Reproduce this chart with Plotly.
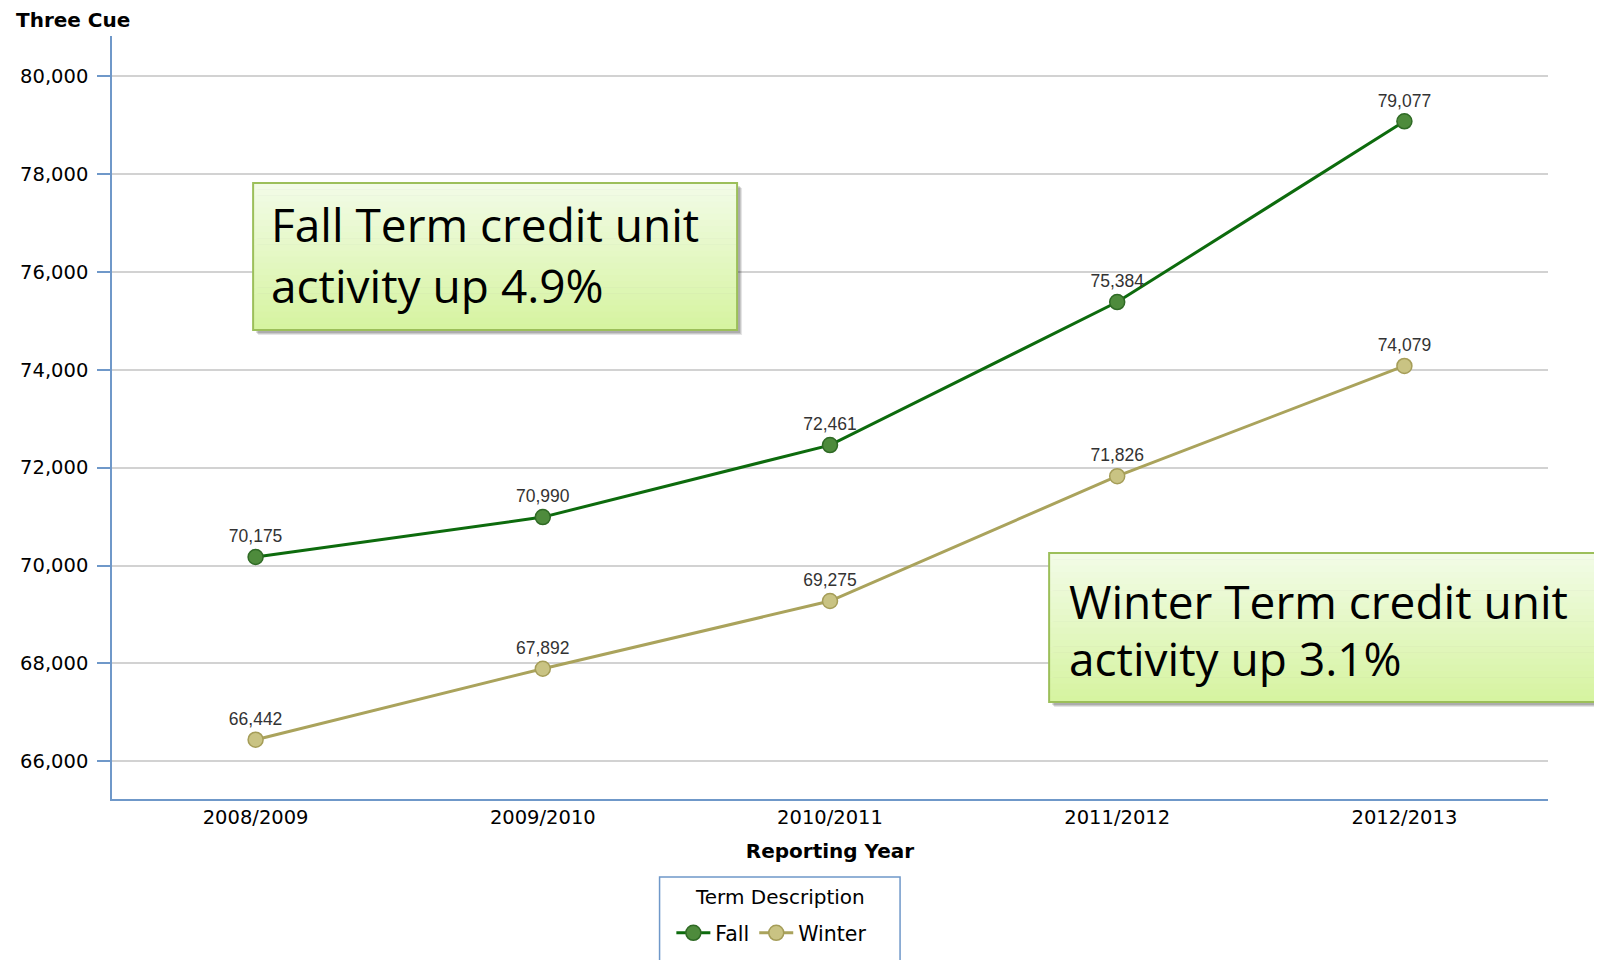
import plotly.graph_objects as go

# ---- data ----
years = ["2008/2009", "2009/2010", "2010/2011", "2011/2012", "2012/2013"]
fall = [70175, 70990, 72461, 75384, 79077]
winter = [66442, 67892, 69275, 71826, 74079]
series_names = ["Fall", "Winter"]
y_ticks = [66000, 68000, 70000, 72000, 74000, 76000, 78000, 80000]

# ---- layout geometry ----
W, H = 1602, 960
OFFX, OFFY = 12, 8
SX0, SX1, SY0, SY1 = 107, 1552, 36, 799
L, T = SX0 - OFFX, SY0 - OFFY
R, B = W - (SX1 - OFFX), H - (SY1 - OFFY)
PW, PH = SX1 - SX0, SY1 - SY0


def px(x):
    return (x - SX0) / PW


def py(y):
    return (SY1 - y) / PH


fig = go.Figure()
fig.add_trace(go.Scatter(
    x=years, y=fall, name=series_names[0], mode="lines+markers+text",
    line=dict(color="#0d6b0d", width=3),
    marker=dict(size=15, color="#4e8b3c", line=dict(color="#2f6a25", width=1.5)),
    text=[f"{v:,}" for v in fall], textposition="top center",
    textfont=dict(family="Liberation Sans", size=17.5, color="#333333"),
))
fig.add_trace(go.Scatter(
    x=years, y=winter, name=series_names[1], mode="lines+markers+text",
    line=dict(color="#aaa35c", width=3),
    marker=dict(size=15, color="#c9c383", line=dict(color="#a59d58", width=1.5)),
    text=[f"{v:,}" for v in winter], textposition="top center",
    textfont=dict(family="Liberation Sans", size=17.5, color="#333333"),
))

shapes = []


def add_box(x0, y0, x1, y1):
    # soft shadow
    for d, a in [(5, 0.10), (4, 0.12), (3, 0.14)]:
        shapes.append(dict(type="rect", xref="paper", yref="paper", layer="above",
                           x0=px(x0 + d), x1=px(x1 + d), y0=py(y1 + d), y1=py(y0 + d),
                           fillcolor="rgba(0,0,0,%.2f)" % a, line=dict(width=0)))
    n = 24
    c0 = (243, 252, 232)
    c1 = (214, 244, 160)
    for i in range(n):
        t = (i + 0.5) / n
        c = tuple(int(c0[k] + (c1[k] - c0[k]) * t) for k in range(3))
        ya = y0 + (y1 - y0) * i / n
        yb = y0 + (y1 - y0) * (i + 1) / n
        shapes.append(dict(type="rect", xref="paper", yref="paper", layer="above",
                           x0=px(x0), x1=px(x1), y0=py(yb + 0.5), y1=py(ya),
                           fillcolor="rgb(%d,%d,%d)" % c, line=dict(width=0)))
    shapes.append(dict(type="rect", xref="paper", yref="paper", layer="above",
                       x0=px(x0), x1=px(x1), y0=py(y1), y1=py(y0),
                       fillcolor="rgba(0,0,0,0)", line=dict(color="#9cbf5a", width=2)))


add_box(249, 183, 736, 330)
add_box(1050, 553, 1660, 702)

# legend frame
shapes.append(dict(type="rect", xref="paper", yref="paper", layer="above",
                   x0=px(658), x1=px(900), y0=py(990), y1=py(877),
                   fillcolor="rgba(0,0,0,0)", line=dict(color="#6f98c9", width=1.5)))

annotations = []
box_font = dict(family="Open Sans", size=46, color="#000000")
for txt, x, ymid in [("Fall Term credit unit", 265, 224),
                     ("activity up 4.9%", 265, 285),
                     ("Winter Term credit unit", 1068, 601),
                     ("activity up 3.1%", 1068, 658)]:
    annotations.append(dict(text=txt, xref="paper", yref="paper", x=px(x), y=py(ymid),
                            xanchor="left", yanchor="middle", showarrow=False,
                            font=box_font))

annotations.append(dict(text="<b>Three Cue</b>", xref="paper", yref="paper",
                        x=px(8), y=py(20), xanchor="left", yanchor="middle",
                        showarrow=False,
                        font=dict(family="DejaVu Sans", size=20, color="#000000")))
annotations.append(dict(text="Term Description", xref="paper", yref="paper",
                        x=px(779), y=py(897), xanchor="center", yanchor="middle",
                        showarrow=False,
                        font=dict(family="DejaVu Sans", size=20, color="#000000")))

fig.update_layout(
    width=W, height=H,
    margin=dict(l=L, r=R, t=T, b=B),
    plot_bgcolor="white", paper_bgcolor="white",
    shapes=shapes, annotations=annotations,
    font=dict(family="DejaVu Sans", size=19.5, color="#000000"),
    xaxis=dict(
        type="category", range=[-0.5, 4.5],
        showline=True, linecolor="#6f98c9", linewidth=1.5, mirror=False,
        showgrid=False, ticks="", tickfont=dict(size=19.5),
        title=dict(text="<b>Reporting Year</b>", font=dict(size=20), standoff=16),
    ),
    yaxis=dict(
        range=[65230, 80820],
        tickvals=y_ticks, ticktext=[f"{v:,}" for v in y_ticks],
        showline=True, linecolor="#6f98c9", linewidth=1.5,
        ticks="outside", ticklen=13, tickcolor="#6f98c9", tickwidth=1.5,
        ticklabelstandoff=5,
        showgrid=True, gridcolor="#d2d2d2", gridwidth=1.5,
        tickfont=dict(size=19.5), zeroline=False,
    ),
    legend=dict(
        orientation="h", x=px(771), xanchor="center", y=py(913), yanchor="top",
        borderwidth=0, bgcolor="rgba(0,0,0,0)",
        font=dict(size=20.5), itemwidth=34,
    ),
    showlegend=True,
)

fig.write_html("out.html")
